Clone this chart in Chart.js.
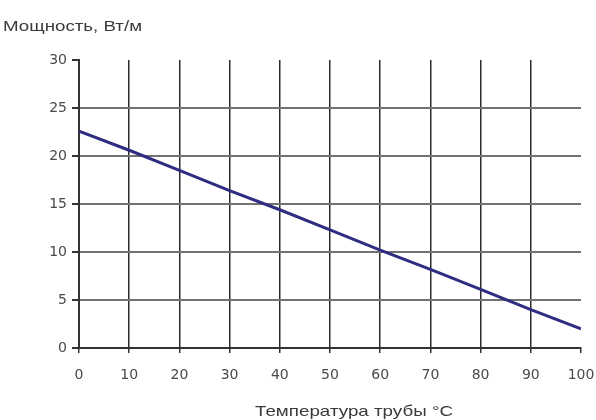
<!DOCTYPE html>
<html>
<head>
<meta charset="utf-8">
<script src="https://cdn.jsdelivr.net/npm/chart.js@4.4.0/dist/chart.umd.min.js"></script>
<style>
  body { margin: 0; background: #fff; }
  canvas { display: block; }
</style>
</head>
<body>
<canvas id="chart" width="596" height="420"></canvas>
<script>
// данные с графика
const temps = [0, 10, 20, 30, 40, 50, 60, 70, 80, 90, 100];
const power = [22.6, 20.6, 18.5, 16.4, 14.4, 12.3, 10.2, 8.2, 6.1, 4.0, 2.0];
const yTitle = 'Мощность, Вт/м';
const xTitle = 'Температура трубы °C';

// текст растянут по горизонтали, как на картинке
function drawStretched(ctx, text, x, y, width) {
    ctx.save();
    ctx.font = '15px "Liberation Sans", Arial, sans-serif';
    ctx.fillStyle = '#3a3a3a';
    ctx.textBaseline = 'alphabetic';
    const w = ctx.measureText(text).width;
    ctx.translate(x, y);
    ctx.scale(width / w, 1);
    ctx.fillText(text, 0, 0);
    ctx.restore();
}

const titlesPlugin = {
    id: 'titles',
    afterDraw(chart) {
        const ctx = chart.ctx;
        drawStretched(ctx, yTitle, 3, 31, 139);
        drawStretched(ctx, xTitle, 255, 416, 198);
    }
};

const ctx = document.getElementById('chart').getContext('2d');
new Chart(ctx, {
    type: 'line',
    data: {
        datasets: [{
            data: temps.map((t, i) => ({ x: t, y: power[i] })),
            borderColor: '#2e2d82',
            borderWidth: 3,
            pointRadius: 0,
            fill: false,
            tension: 0
        }]
    },
    options: {
        responsive: false,
        animation: false,
        layout: { autoPadding: false, padding: { top: 60, right: 15, bottom: 0, left: 0 } },
        plugins: {
            legend: { display: false },
            tooltip: { enabled: false }
        },
        scales: {
            x: {
                type: 'linear',
                min: 0,
                max: 100,
                afterFit: s => { s.height = 72; s.paddingLeft = 0; s.paddingRight = 0; },
                ticks: {
                    stepSize: 10,
                    padding: 14,
                    color: '#4a4a4a',
                    font: { family: 'DejaVu Sans', size: 14 }
                },
                grid: {
                    color: c => (c.tick.value === 0 || c.tick.value === 100) ? 'rgba(0,0,0,0)' : '#2a2a2a',
                    lineWidth: 1.5,
                    tickColor: '#333',
                    tickLength: 5
                },
                border: { color: '#333', width: 2 }
            },
            y: {
                min: 0,
                max: 30,
                afterFit: s => { s.width = 79; s.paddingTop = 0; s.paddingBottom = 0; },
                ticks: {
                    stepSize: 5,
                    padding: 5,
                    color: '#4a4a4a',
                    font: { family: 'DejaVu Sans', size: 14 }
                },
                grid: {
                    color: c => (c.tick.value === 0 || c.tick.value === 30) ? 'rgba(0,0,0,0)' : '#727272',
                    lineWidth: 2,
                    tickColor: '#333',
                    tickLength: 7
                },
                border: { color: '#333', width: 2 }
            }
        }
    },
    plugins: [titlesPlugin]
});
</script>
</body>
</html>
